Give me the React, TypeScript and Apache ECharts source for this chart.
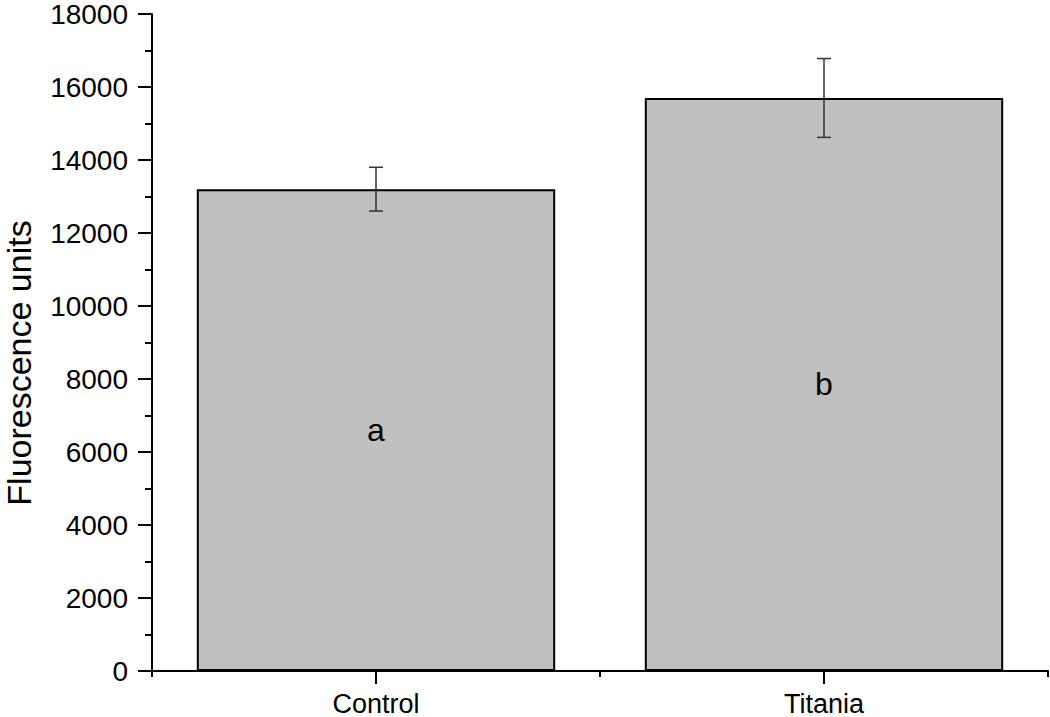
import React, { useEffect, useRef } from "react";
import * as echarts from "echarts";

const categories = ["Control", "Titania"];
const means = [13200, 15700];
const errors = [600, 1080];
const letters = ["a", "b"];
const yTicks = { min: 0, max: 18000, interval: 2000 };

export default function App() {
  const ref = useRef<HTMLDivElement>(null);
  useEffect(() => {
    document.body.style.margin = "0";
    const chart = echarts.init(ref.current!, null, { renderer: "svg" });
    const font = "Liberation Sans, Arial, sans-serif";
    chart.setOption({
      animation: false,
      backgroundColor: "#ffffff",
      grid: { left: 152, right: 2, top: 8, bottom: 46 },
      xAxis: [
        {
          type: "category",
          data: categories,
          boundaryGap: true,
          axisLine: { lineStyle: { color: "#000", width: 2 } },
          axisTick: { show: true, length: 6, lineStyle: { color: "#000", width: 2 } },
          axisLabel: { color: "#000", fontSize: 27, fontFamily: font, margin: 19 },
          splitLine: { show: false },
        },
        {
          type: "category",
          data: categories,
          position: "bottom",
          boundaryGap: true,
          axisLine: { show: false },
          axisTick: { show: true, alignWithLabel: true, length: 13, lineStyle: { color: "#000", width: 2 } },
          axisLabel: { show: false },
          splitLine: { show: false },
        },
      ],
      yAxis: {
        type: "value",
        min: yTicks.min,
        max: yTicks.max,
        interval: yTicks.interval,
        axisLine: { show: true, lineStyle: { color: "#000", width: 2 } },
        axisTick: { show: true, length: 14, lineStyle: { color: "#000", width: 2 } },
        minorTick: { show: true, splitNumber: 2, length: 7, lineStyle: { color: "#000", width: 2 } },
        axisLabel: {
          color: "#000",
          fontSize: 28,
          fontFamily: font,
          margin: 24,
          formatter: (v: number) => String(v),
        },
        splitLine: { show: false },
      },
      graphic: [
        {
          type: "text",
          x: 19,
          y: 363,
          rotation: Math.PI / 2,
          style: {
            text: "Fluorescence units",
            fontSize: 34,
            fontFamily: font,
            fill: "#000",
            align: "center",
            verticalAlign: "middle",
          },
        },
      ],
      series: [
        {
          type: "bar",
          xAxisIndex: 0,
          data: means.map((v, i) => ({ value: v, label: { formatter: letters[i] } })),
          barCategoryGap: "20%",
          itemStyle: { color: "#c0c0c0", borderColor: "#000", borderWidth: 2 },
          label: {
            show: true,
            position: "inside",
            color: "#000",
            fontSize: 32,
            fontFamily: font,
          },
        },
        {
          type: "custom",
          xAxisIndex: 0,
          data: means.map((m, i) => [i, m - errors[i], m + errors[i]]),
          renderItem: (params: any, api: any) => {
            const x = api.value(0);
            const lo = api.coord([x, api.value(1)]);
            const hi = api.coord([x, api.value(2)]);
            const hw = 7;
            const style = { stroke: "#333", lineWidth: 1.5, fill: "none" };
            return {
              type: "group",
              children: [
                { type: "line", shape: { x1: lo[0], y1: lo[1], x2: hi[0], y2: hi[1] }, style },
                { type: "line", shape: { x1: lo[0] - hw, y1: lo[1], x2: lo[0] + hw, y2: lo[1] }, style },
                { type: "line", shape: { x1: hi[0] - hw, y1: hi[1], x2: hi[0] + hw, y2: hi[1] }, style },
              ],
            };
          },
          z: 5,
        },
      ],
    });
    return () => chart.dispose();
  }, []);
  return <div ref={ref} style={{ width: 1050, height: 717 }} />;
}
